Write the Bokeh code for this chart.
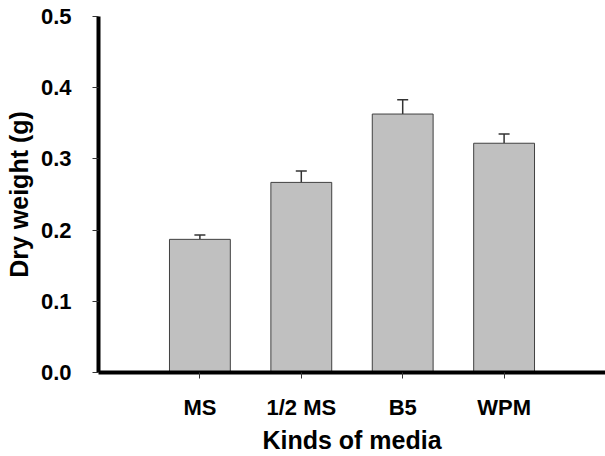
from bokeh.plotting import figure
from bokeh.models import ColumnDataSource, Whisker, TeeHead, FixedTicker, Range1d
from bokeh.embed import file_html
from bokeh.resources import INLINE

categories = ["MS", "1/2 MS", "B5", "WPM"]
dry_weight = [0.187, 0.267, 0.363, 0.322]
std_error = [0.006, 0.016, 0.020, 0.013]
y_ticks = [0.0, 0.1, 0.2, 0.3, 0.4, 0.5]

xs = list(range(1, len(categories) + 1))
src = ColumnDataSource(dict(
    x=xs, top=dry_weight,
    upper=[v + e for v, e in zip(dry_weight, std_error)],
))

p = figure(width=605, height=456, output_backend="svg", toolbar_location=None,
           x_range=Range1d(0, 5), y_range=Range1d(0, 0.5),
           min_border_left=98, min_border_right=0, min_border_top=16, min_border_bottom=83)
p.outline_line_color = None
p.xgrid.visible = False
p.ygrid.visible = False
p.background_fill_color = "white"
p.border_fill_color = "white"

p.vbar(x="x", top="top", bottom=0, width=0.6, source=src,
       fill_color="#c0c0c0", line_color="#404040", line_width=1)

w = Whisker(base="x", lower="top", upper="upper", source=src,
            line_color="#333333", line_width=1.5,
            upper_head=TeeHead(size=11, line_color="#333333", line_width=1.5),
            lower_head=None)
p.add_layout(w)

font = "Liberation Sans"
p.xaxis.ticker = FixedTicker(ticks=xs)
p.xaxis.major_label_overrides = {x: c for x, c in zip(xs, categories)}
p.yaxis.ticker = FixedTicker(ticks=y_ticks)
p.yaxis.major_label_overrides = {t: f"{t:.1f}" for t in y_ticks}

for ax in (p.xaxis[0], p.yaxis[0]):
    ax.axis_line_width = 4
    ax.axis_line_color = "black"
    ax.major_tick_line_color = "#333333"
    ax.major_tick_line_width = 1
    ax.major_tick_in = 0
    ax.major_tick_out = 6
    ax.minor_tick_line_color = None
    ax.major_label_text_font = font
    ax.major_label_text_font_style = "bold"
    ax.major_label_text_font_size = "22px"
    ax.major_label_text_color = "black"
    ax.axis_label_text_font = font
    ax.axis_label_text_font_style = "bold"
    ax.axis_label_text_font_size = "25px"
    ax.axis_label_text_color = "black"

p.xaxis.axis_label = "Kinds of media"
p.yaxis.axis_label = "Dry weight (g)"
p.xaxis.major_label_standoff = 16
p.yaxis.major_label_standoff = 21
p.xaxis.axis_label_standoff = 3
p.yaxis.axis_label_standoff = 5

open("out.html", "w").write(file_html(p, INLINE))
